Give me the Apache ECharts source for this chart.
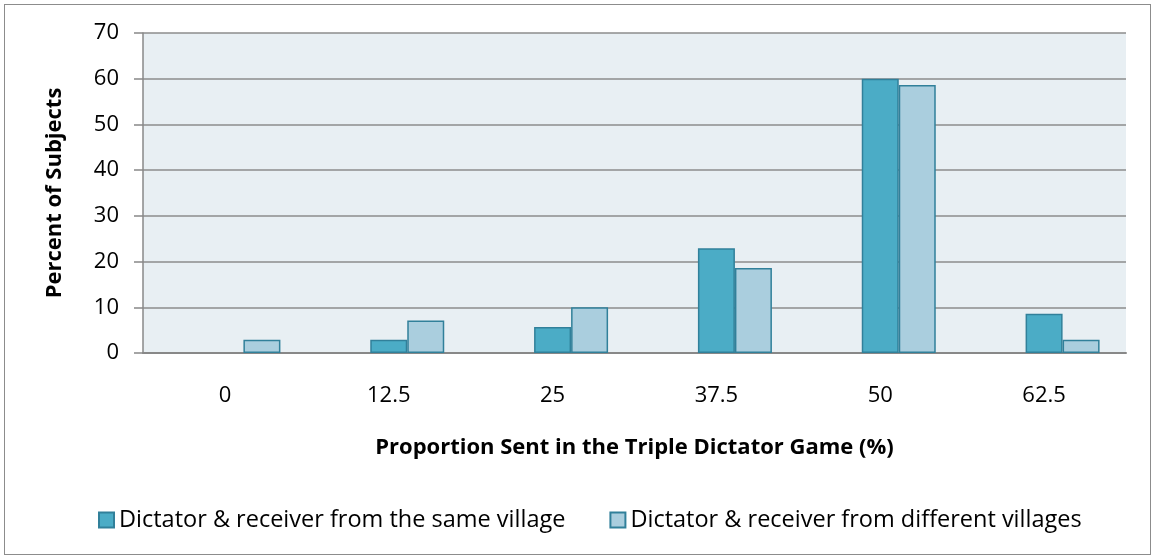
<!DOCTYPE html>
<html>
<head>
<meta charset="utf-8">
<script src="https://cdn.jsdelivr.net/npm/echarts@6/dist/echarts.min.js"></script>
<style>
html,body{margin:0;padding:0;background:#fff;}
#main{position:absolute;left:4px;top:4px;width:1147px;height:551px;border:1px solid #8c8c8c;box-sizing:border-box;}
</style>
</head>
<body>
<div id="main"></div>
<script>
var categories = ['0', '12.5', '25', '37.5', '50', '62.5'];
var sameVillage = ['-', 2.9, 5.7, 22.9, 60.0, 8.6];
var diffVillage = [2.9, 7.1, 10.0, 18.6, 58.6, 2.9];
var seriesNames = ['Dictator & receiver from the same village', 'Dictator & receiver from different villages'];
// Excel leaves an empty slot in front of each pair
var emptySlot = ['-', '-', '-', '-', '-', '-'];

var fontFam = '"Open Sans", "Liberation Sans", sans-serif';

var option = {
	animation : false,
	textStyle : { fontFamily : fontFam },
	grid : {
		left : 138,
		right : 24,
		top : 28,
		bottom : 201,
		show : true,
		backgroundColor : '#E8EFF3',
		borderWidth : 0
	},
	legend : {
		data : seriesNames,
		bottom : 17,
		left : 88,
		icon : 'rect',
		itemWidth : 15,
		itemHeight : 15,
		itemGap : 44,
		textStyle : { fontSize : 23.5, color : '#000', fontFamily : fontFam }
	},
	xAxis : {
		type : 'category',
		data : categories,
		name : 'Proportion Sent in the Triple Dictator Game (%)',
		nameLocation : 'middle',
		nameGap : 84,
		nameTextStyle : { fontSize : 22, fontWeight : 'bold', color : '#000' },
		axisLine : { lineStyle : { color : '#888', width : 2 } },
		axisTick : { show : false },
		axisLabel : { fontSize : 22, color : '#000', margin : 32 }
	},
	yAxis : {
		type : 'value',
		min : 0,
		max : 70,
		interval : 10,
		name : 'Percent of Subjects',
		nameLocation : 'middle',
		nameGap : 77,
		nameTextStyle : { fontSize : 22, fontWeight : 'bold', color : '#000' },
		axisLine : { show : true, lineStyle : { color : '#888', width : 1.5 } },
		axisTick : { show : true, length : 9, lineStyle : { color : '#888', width : 1.5 } },
		axisLabel : { fontSize : 22, color : '#000', margin : 24 },
		splitLine : { lineStyle : { color : '#8c8c8c', width : 1.5 } }
	},
	series : [ {
		name : 'empty',
		type : 'bar',
		data : emptySlot,
		barWidth : 37,
		barGap : '0%'
	}, {
		name : seriesNames[0],
		type : 'bar',
		data : sameVillage,
		barWidth : 37,
		barGap : '0%',
		itemStyle : { color : '#4BACC6', borderColor : '#31809A', borderWidth : 1.5 }
	}, {
		name : seriesNames[1],
		type : 'bar',
		data : diffVillage,
		barWidth : 37,
		barGap : '0%',
		itemStyle : { color : '#AACEDE', borderColor : '#31809A', borderWidth : 1.5 }
	} ]
};

var myChart = echarts.init(document.getElementById('main'));
myChart.setOption(option, true);
</script>
</body>
</html>
